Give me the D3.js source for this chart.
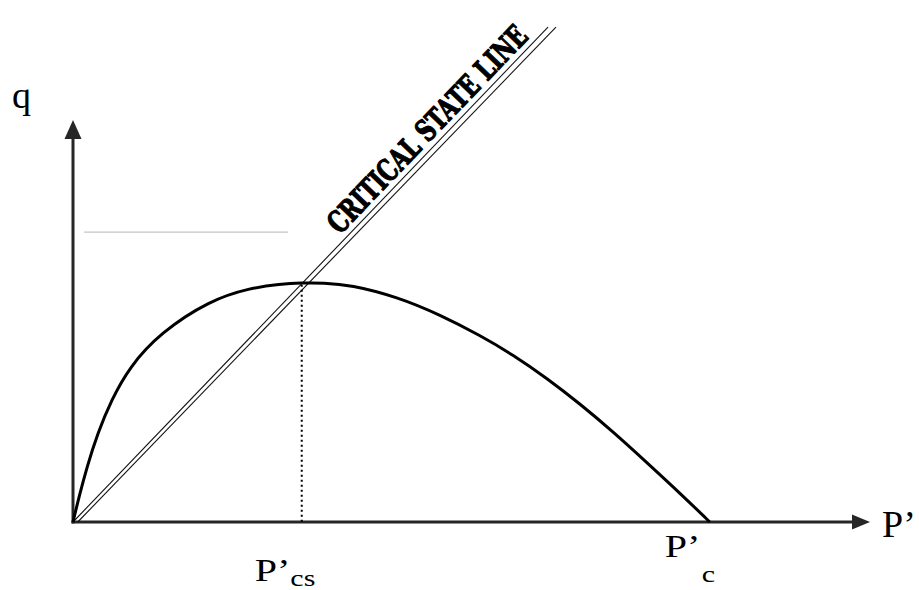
<!DOCTYPE html>
<html>
<head>
<meta charset="utf-8">
<script src="https://cdn.jsdelivr.net/npm/d3@7"></script>
<style>
  html, body { margin: 0; padding: 0; background: #fff; }
  svg { display: block; }
</style>
</head>
<body>
<svg id="chart" width="919" height="590"></svg>
<script>
// Yield surface in q – p' space (arbitrary units)
const pPrime  = [0, 0.75, 1.75, 3.1, 4.8, 7.1, 10.9, 17.2, 22.2, 26.0, 28.7, 31.4, 34.8, 40.7, 46.1, 51.1, 55.2, 59.5, 63.6, 67.8, 72.0, 76.2, 79.9];
const qValues = [0, 6.2, 13.7, 22.1, 30.3, 38.6, 47.0, 55.2, 58.2, 59.2, 59.5, 59.5, 59.0, 56.0, 51.5, 46.4, 41.6, 35.7, 29.4, 22.4, 14.8, 7.1, 0];

// Critical state line (drawn as a double line)
const cslP1 = [0, 59.6];
const cslP2 = [0.6, 60.6];
const cslQ  = [0, 123.1];
const cslLabel = "CRITICAL STATE LINE";

// Critical-state point and pre-consolidation pressure
const pCs = 28.7, qCs = 59.0;
const pC = 79.9;

// Faint reference line
const refP = [1.4, 27.0];
const refQ = 72.1;

const axisLabels = { q: "q", p: "P’", pcs: ["P’", "cs"], pc: ["P’", "c"] };

const svg = d3.select("#chart");
const x = d3.scaleLinear().domain([0, 100]).range([73, 870]);
const y = d3.scaleLinear().domain([0, 100]).range([522, 120]);

const axisColor = "#262626";

// faint horizontal line
svg.append("line")
  .attr("x1", x(refP[0])).attr("x2", x(refP[1]))
  .attr("y1", y(refQ)).attr("y2", y(refQ))
  .attr("stroke", "#c4c4c4").attr("stroke-width", 1.2);

// axes (no ticks) – only the domain lines
const xAxis = svg.append("g").attr("transform", `translate(0,${y(0)})`)
  .call(d3.axisBottom(x).tickValues([]).tickSizeOuter(0));
const yAxis = svg.append("g").attr("transform", `translate(${x(0)},0)`)
  .call(d3.axisLeft(y).tickValues([]).tickSizeOuter(0));
[xAxis, yAxis].forEach(g => g.select(".domain")
  .attr("stroke", axisColor).attr("stroke-width", 3));
xAxis.select(".domain").attr("d", `M${x(0) - 1.5},0H${x(100) - 10}`);
yAxis.select(".domain").attr("d", `M0,${y(0) + 1.5}V${y(100) + 10}`);

// arrowheads
const xe = x(100), ye = y(100);
svg.append("path")
  .attr("d", `M${xe},${y(0)} L${xe - 18},${y(0) - 7.5} L${xe - 18},${y(0) + 7.5} Z`)
  .attr("fill", axisColor);
svg.append("path")
  .attr("d", `M${x(0)},${ye} L${x(0) - 8.5},${ye + 19} L${x(0) + 8.5},${ye + 19} Z`)
  .attr("fill", axisColor);

// critical state line: two thin parallel strokes
[cslP1, cslP2].forEach(ps => {
  svg.append("line")
    .attr("x1", x(ps[0])).attr("y1", y(cslQ[0]))
    .attr("x2", x(ps[1])).attr("y2", y(cslQ[1]))
    .attr("stroke", "#111").attr("stroke-width", 1.1);
});

// label along the critical state line: condensed, tall, heavy lettering
{
  const x0 = x(cslP1[0]), y0 = y(cslQ[0]);
  const x1 = x(cslP1[1]), y1 = y(cslQ[1]);
  const len = Math.hypot(x1 - x0, y1 - y0);
  const ux = (x1 - x0) / len, uy = (y1 - y0) / len;
  const t = 0.571, off = 6, labelLen = 274, targetSize = 30;
  const sx = x0 + ux * len * t + uy * off;
  const sy = y0 + uy * len * t - ux * off;
  const ang = Math.atan2(uy, ux) * 180 / Math.PI;
  const g = svg.append("g");
  const lbl = g.append("text")
    .attr("font-family", "'DejaVu Serif Condensed', 'DejaVu Serif', serif")
    .attr("font-weight", "bold")
    .attr("font-size", targetSize)
    .attr("stroke", "#000").attr("stroke-width", 1.2)
    .attr("stroke-linejoin", "round")
    .attr("fill", "#000")
    .text(cslLabel);
  // pick the font size whose natural run equals the label length,
  // then stretch vertically back to the wanted letter height
  const natural = lbl.node().getComputedTextLength();
  const fs = targetSize * labelLen / natural;
  lbl.attr("font-size", fs).attr("stroke-width", 1.2 * fs / targetSize);
  g.attr("transform", `translate(${sx},${sy}) rotate(${ang}) scale(1,${targetSize / fs})`);
}

// dotted line from the critical state point
svg.append("line")
  .attr("x1", x(pCs)).attr("x2", x(pCs))
  .attr("y1", y(qCs)).attr("y2", y(0))
  .attr("stroke", "#000").attr("stroke-width", 2)
  .attr("stroke-dasharray", "2,3");

// yield curve (smoothed B-spline through the sampled points)
const pts = pPrime.map((p, i) => [p, qValues[i]]);
svg.append("path")
  .datum(pts)
  .attr("d", d3.line().x(d => x(d[0])).y(d => y(d[1])).curve(d3.curveBasis))
  .attr("fill", "none")
  .attr("stroke", "#000")
  .attr("stroke-width", 3)
  .attr("stroke-linejoin", "round");

// text labels
const serif = "'Liberation Serif', 'Times New Roman', serif";
svg.append("text")
  .attr("x", 12).attr("y", 108)
  .attr("font-family", serif).attr("font-size", 38)
  .text(axisLabels.q);
svg.append("text")
  .attr("x", xe + 12).attr("y", y(0) + 15)
  .attr("font-family", serif).attr("font-size", 38)
  .text(axisLabels.p);

function subLabel(px, baseY, parts, subDx, subDy) {
  const t = svg.append("g")
    .attr("transform", `translate(${px},${baseY}) scale(1.25,1)`)
    .append("text")
    .attr("font-family", serif).attr("font-size", 32);
  t.append("tspan").text(parts[0]);
  t.append("tspan").attr("dx", subDx).attr("dy", subDy).attr("font-size", 24).text(parts[1]);
}
subLabel(x(pCs) - 47, 581, axisLabels.pcs, 0, 5);
subLabel(x(pC) - 45, 557, axisLabels.pc, 1, 25);
</script>
</body>
</html>
